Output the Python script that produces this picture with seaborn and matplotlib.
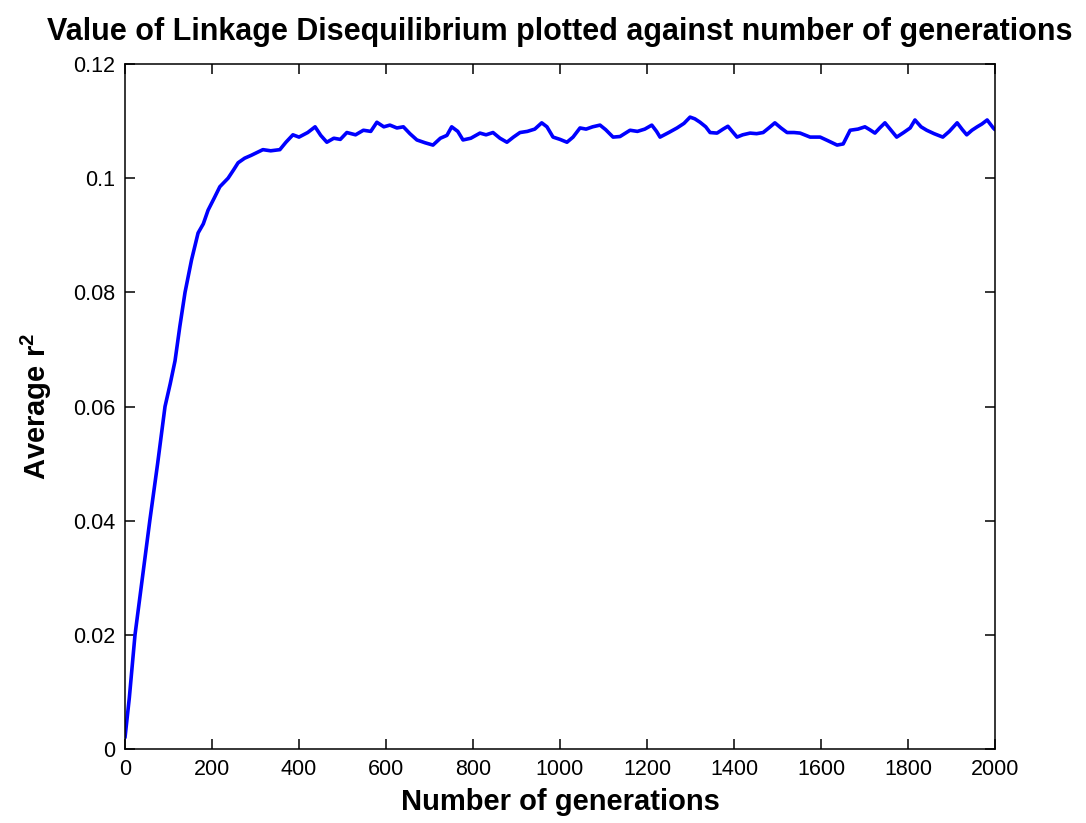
import numpy as np
import pandas as pd
import seaborn as sns
import matplotlib
matplotlib.use("Agg")
import matplotlib.pyplot as plt

# values
generations = [0, 10, 23, 40, 57, 75, 92, 104, 115, 126, 138, 153, 168, 180, 191,
               205, 218, 237, 250, 260, 275, 290, 317, 335, 356, 370, 386, 400, 420,
               437, 450, 464, 480, 495, 510, 530, 548, 565, 579, 595, 609, 625, 640,
               655, 671, 690, 708, 725, 740, 751, 765, 777, 795, 816, 830, 846, 862,
               878, 893, 908, 925, 942, 958, 970, 984, 1000, 1016, 1030, 1046, 1060,
               1075, 1092, 1105, 1122, 1138, 1161, 1178, 1195, 1211, 1222, 1230, 1250,
               1269, 1285, 1299, 1310, 1322, 1335, 1345, 1361, 1375, 1386, 1396, 1407,
               1420, 1437, 1452, 1467, 1480, 1494, 1508, 1522, 1538, 1552, 1575, 1598,
               1615, 1637, 1651, 1667, 1685, 1701, 1712, 1724, 1735, 1747, 1760, 1774,
               1790, 1805, 1816, 1830, 1843, 1860, 1880, 1895, 1913, 1925, 1935, 1947,
               1959, 1970, 1982, 1996, 2000]
avg_r2 = [0.002, 0.009, 0.020, 0.030, 0.040, 0.050, 0.060, 0.064, 0.068, 0.074, 0.080,
          0.0857, 0.0904, 0.092, 0.0944, 0.0965, 0.0985, 0.100, 0.1015, 0.1027, 0.1035,
          0.104, 0.105, 0.1048, 0.105, 0.1063, 0.1076, 0.1072, 0.108, 0.109, 0.1075,
          0.1063, 0.107, 0.1068, 0.108, 0.1076, 0.1084, 0.1082, 0.1098, 0.109, 0.1093,
          0.1088, 0.109, 0.1078, 0.1067, 0.1062, 0.1058, 0.107, 0.1075, 0.109, 0.1082,
          0.1067, 0.107, 0.1079, 0.1076, 0.108, 0.107, 0.1063, 0.1072, 0.108, 0.1082,
          0.1086, 0.1097, 0.109, 0.1072, 0.1068, 0.1063, 0.1072, 0.1088, 0.1086, 0.109,
          0.1093, 0.1085, 0.1072, 0.1073, 0.1084, 0.1082, 0.1086, 0.1093, 0.1082, 0.1072,
          0.108, 0.1088, 0.1096, 0.1107, 0.1104, 0.1098, 0.109, 0.108, 0.1079, 0.1086,
          0.1091, 0.1082, 0.1072, 0.1076, 0.1079, 0.1078, 0.108, 0.1088, 0.1097, 0.1088,
          0.108, 0.108, 0.1079, 0.1072, 0.1072, 0.1066, 0.1058, 0.106, 0.1084, 0.1086,
          0.109, 0.1085, 0.1079, 0.1088, 0.1097, 0.1085, 0.1072, 0.108, 0.1088, 0.1102,
          0.109, 0.1084, 0.1078, 0.1072, 0.1082, 0.1097, 0.1085, 0.1076, 0.1084, 0.109,
          0.1095, 0.1102, 0.1088, 0.1085]

x_ticks = [0, 200, 400, 600, 800, 1000, 1200, 1400, 1600, 1800, 2000]
y_ticks = [0, 0.02, 0.04, 0.06, 0.08, 0.1, 0.12]
y_tick_labels = ["0", "0.02", "0.04", "0.06", "0.08", "0.1", "0.12"]

df = pd.DataFrame({"gen": generations, "r2": avg_r2})

sns.set_style("ticks")
plt.rcParams["font.family"] = ["Liberation Sans", "DejaVu Sans"]
plt.rcParams["mathtext.default"] = "regular"

fig = plt.figure(figsize=(10.86, 8.23), dpi=100)
ax = fig.add_axes([0.1151, 0.0899, 0.8011, 0.8323])

sns.lineplot(data=df, x="gen", y="r2", color="#0000ff", linewidth=2.6, ax=ax)

ax.set_xlim(0, 2000)
ax.set_ylim(0, 0.12)
ax.set_xticks(x_ticks)
ax.set_xticklabels([str(t) for t in x_ticks])
ax.set_yticks(y_ticks)
ax.set_yticklabels(y_tick_labels)

for s in ax.spines.values():
    s.set_visible(True)
    s.set_color("black")
    s.set_linewidth(1.1)
ax.tick_params(direction="in", length=7, width=1.1, top=True, right=True,
               labelsize=15.5, colors="black", pad=7)

ax.set_xlabel("Number of generations", fontsize=21, fontweight="bold", labelpad=6,
              color="black")
ax.set_ylabel("Average r$^2$", fontsize=21, fontweight="bold", labelpad=14,
              color="black")
ax.set_title("Value of Linkage Disequilibrium plotted against number of generations",
             fontsize=22, fontweight="bold", pad=17, color="black")

fig.savefig("out.png", dpi=100, facecolor="white")
